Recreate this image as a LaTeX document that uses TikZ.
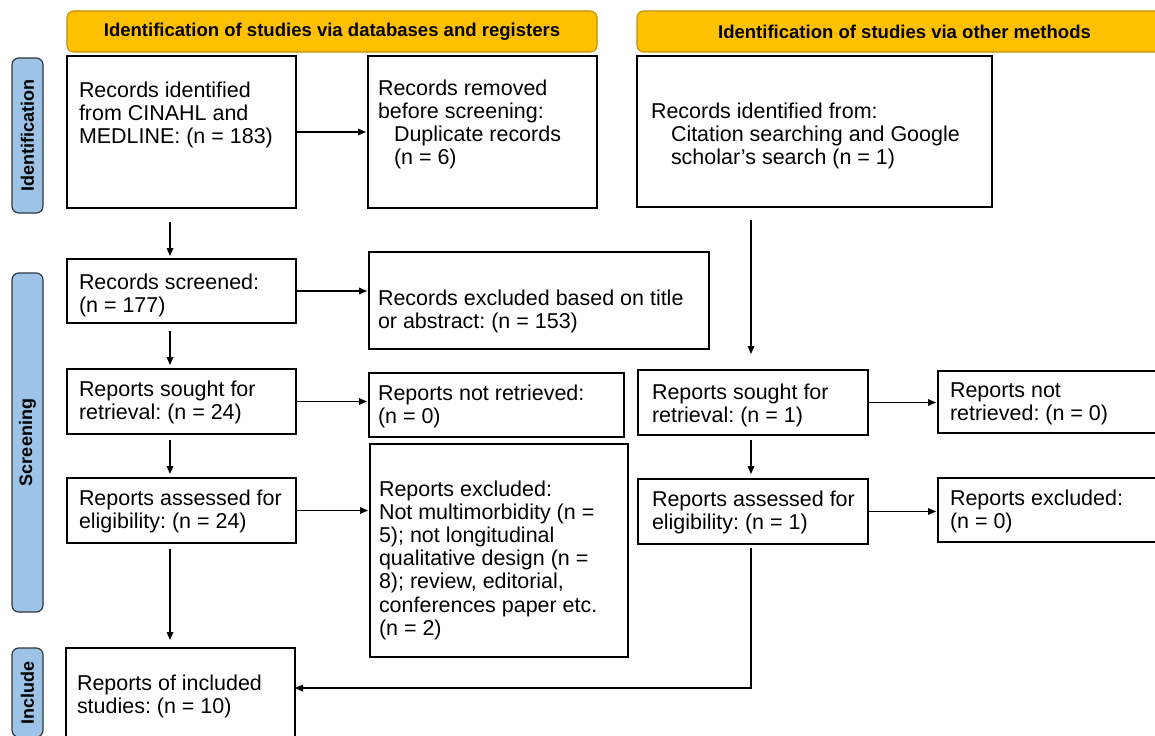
\documentclass[tikz,border=0pt]{standalone}
\usepackage{fontspec}
\setmainfont{Liberation Sans}
\usetikzlibrary{arrows.meta}
\frenchspacing
\newdimen\px \px=0.75pt
\newcommand{\bt}[5]{\parbox[c][#2\px][t]{#1\px}{\vspace*{#3\px}\leftskip=#4\px\rightskip=0pt plus 1fil\parindent=0pt\rule{0pt}{16\px}#5\par}}
\definecolor{hdr}{HTML}{FFC000}
\definecolor{hdrline}{HTML}{BF9000}
\definecolor{side}{HTML}{9DC3E6}
\definecolor{sideline}{HTML}{2F3640}
\tikzset{
  flowbox/.style={draw=black, line width=0.9pt, inner sep=0pt, outer sep=0pt, anchor=north west,
    font=\fontsize{16.1pt}{17.4pt}\selectfont},
  hdrbox/.style={draw=hdrline, fill=hdr, line width=0.8pt, rounded corners=5pt, inner sep=0pt, outer sep=0pt,
    anchor=north west, minimum height=41\px, font=\bfseries\fontsize{13.9pt}{16pt}\selectfont},
  sidebox/.style={draw=sideline, fill=side, line width=0.9pt, rounded corners=5pt, inner sep=0pt, outer sep=0pt,
    rotate=90, minimum height=31\px, font=\bfseries\fontsize{13.5pt}{15pt}\selectfont},
  arr/.style={-{Triangle[length=6pt,width=5pt]}, line width=0.9pt},
}
\begin{document}
\begin{tikzpicture}[x=0.75pt, y=-0.75pt]
\useasboundingbox (0,0) rectangle (1155,735);
\clip (0,0) rectangle (1155,735);
\fill[white] (0,0) rectangle (1155,735);

% headers
\node[hdrbox, minimum width=530\px] (h1) at (67,11) {Identification of studies via databases and registers};
\node[hdrbox, minimum width=535\px] (h2) at (637,11) {Identification of studies via other methods};

% side labels
\node[sidebox, minimum width=155\px] (s1) at (27.5,135.5) {Identification};
\node[sidebox, minimum width=339\px] (s2) at (27.5,442.5) {Screening};
\node[sidebox, minimum width=89\px] (s3) at (27.5,692.5) {Include};

% left column
\node[flowbox] (A) at (67,56) {\bt{229}{152}{25}{12}{Records identified\\from CINAHL and\\MEDLINE: (n = 183)}};
\node[flowbox] (B) at (368,56) {\bt{229}{152}{23}{10}{Records removed\\before screening:\\\hspace*{16\px}Duplicate records\\\hspace*{16\px}(n = 6)}};
\node[flowbox] (D) at (67,259) {\bt{229}{64}{14}{12}{Records screened:\\(n = 177)}};
\node[flowbox] (E) at (369,252) {\bt{340}{97}{37}{9}{Records excluded based on title\\or abstract: (n = 153)}};
\node[flowbox] (F) at (67,369) {\bt{229}{65}{11}{12}{Reports sought for\\retrieval: (n = 24)}};
\node[flowbox] (G) at (369,373) {\bt{255}{64}{11}{9}{Reports not retrieved:\\(n = 0)}};
\node[flowbox] (J) at (67,478) {\bt{229}{65}{11}{12}{Reports assessed for\\eligibility: (n = 24)}};
\node[flowbox] (K) at (370,444) {\bt{258}{213}{36}{9}{Reports excluded:\\Not multimorbidity (n =\\5); not longitudinal\\qualitative design (n =\\8); review, editorial,\\conferences paper etc.\\(n = 2)}};
\node[flowbox] (N) at (66,648) {\bt{229}{100}{26}{11}{Reports of included\\studies: (n = 10)}};

% right column
\node[flowbox] (C) at (637,56) {\bt{355}{151}{46}{14}{Records identified from:\\\hspace*{20\px}Citation searching and Google\\\hspace*{20\px}scholar’s search (n = 1)}};
\node[flowbox] (H) at (638,370) {\bt{230}{65}{13}{14}{Reports sought for\\retrieval: (n = 1)}};
\node[flowbox] (I) at (938,371) {\bt{230}{62}{10}{12}{Reports not\\retrieved: (n = 0)}};
\node[flowbox] (L) at (638,479) {\bt{230}{65}{11}{14}{Reports assessed for\\eligibility: (n = 1)}};
\node[flowbox] (M) at (938,478) {\bt{230}{64}{11}{12}{Reports excluded:\\(n = 0)}};

\coordinate (cl) at (170,0);
\coordinate (cr) at (751,0);

% horizontal arrows
\draw[arr, shorten >=1.5pt] (A.east) -- (A.east -| B.west);
\draw[arr, shorten >=1.5pt] (D.east) -- (D.east -| E.west);
\draw[arr, shorten >=1.5pt] (F.east) -- (F.east -| G.west);
\draw[arr, shorten >=1.5pt] (J.east) -- (J.east -| K.west);
\draw[arr, shorten >=1.5pt] (H.east) -- (H.east -| I.west);
\draw[arr, shorten >=1.5pt] (L.east) -- (L.east -| M.west);

% vertical arrows
\draw[arr, shorten <=14\px, shorten >=3\px] (A.south -| cl) -- (D.north -| cl);
\draw[arr, shorten <=8\px, shorten >=4\px] (D.south -| cl) -- (F.north -| cl);
\draw[arr, shorten <=6\px, shorten >=4\px] (F.south -| cl) -- (J.north -| cl);
\draw[arr, shorten <=6\px, shorten >=8\px] (J.south -| cl) -- (N.north -| cl);
\draw[arr, shorten <=13\px, shorten >=16\px] (C.south -| cr) -- (H.north -| cr);
\draw[arr, shorten <=5\px, shorten >=5\px] (H.south -| cr) -- (L.north -| cr);
\draw[arr, shorten <=4\px] (L.south -| cr) |- ([yshift=-40\px]N.north east);
\end{tikzpicture}
\end{document}
